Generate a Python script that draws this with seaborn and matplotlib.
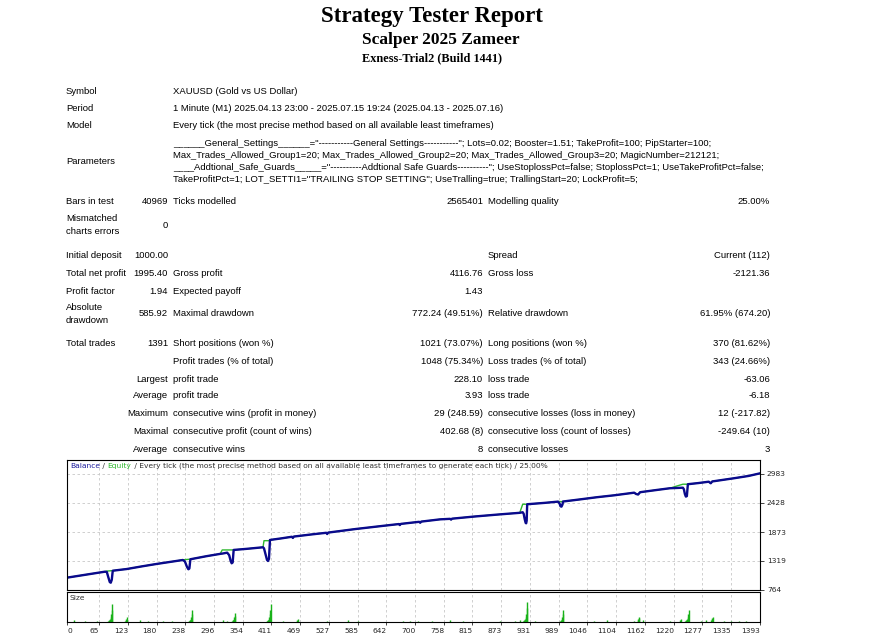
import matplotlib
matplotlib.use("Agg")
import matplotlib.pyplot as plt
import seaborn as sns
import pandas as pd

# ---- report header ----
title = "Strategy Tester Report"
subtitle = "Scalper 2025 Zameer"
server = "Exness-Trial2 (Build 1441)"

info_rows = [
    ("Symbol", "XAUUSD (Gold vs US Dollar)"),
    ("Period", "1 Minute (M1) 2025.04.13 23:00 - 2025.07.15 19:24 (2025.04.13 - 2025.07.16)"),
    ("Model", "Every tick (the most precise method based on all available least timeframes)"),
]
params_label = "Parameters"
params_lines = [
    '______General_Settings______="-----------General Settings-----------"; Lots=0.02; Booster=1.51; TakeProfit=100; PipStarter=100;',
    "Max_Trades_Allowed_Group1=20; Max_Trades_Allowed_Group2=20; Max_Trades_Allowed_Group3=20; MagicNumber=212121;",
    '____Addtional_Safe_Guards_____="----------Addtional Safe Guards----------"; UseStoplossPct=false; StoplossPct=1; UseTakeProfitPct=false;',
    'TakeProfitPct=1; LOT_SETTI1="TRAILING STOP SETTING"; UseTralling=true; TrallingStart=20; LockProfit=5;',
]

# label, value, text2, value2, text3, value3
stats_top = [
    ("Bars in test", "40969", "Ticks modelled", "2565401", "Modelling quality", "25.00%"),
    ("Mismatched\ncharts errors", "0", "", "", "", ""),
    ("Initial deposit", "1000.00", "", "", "Spread", "Current (112)"),
    ("Total net profit", "1995.40", "Gross profit", "4116.76", "Gross loss", "-2121.36"),
    ("Profit factor", "1.94", "Expected payoff", "1.43", "", ""),
    ("Absolute\ndrawdown", "585.92", "Maximal drawdown", "772.24 (49.51%)", "Relative drawdown", "61.95% (674.20)"),
    ("Total trades", "1391", "Short positions (won %)", "1021 (73.07%)", "Long positions (won %)", "370 (81.62%)"),
]
stats_bottom = [
    ("", "Profit trades (% of total)", "1048 (75.34%)", "Loss trades (% of total)", "343 (24.66%)"),
    ("Largest", "profit trade", "228.10", "loss trade", "-63.06"),
    ("Average", "profit trade", "3.93", "loss trade", "-6.18"),
    ("Maximum", "consecutive wins (profit in money)", "29 (248.59)", "consecutive losses (loss in money)", "12 (-217.82)"),
    ("Maximal", "consecutive profit (count of wins)", "402.68 (8)", "consecutive loss (count of losses)", "-249.64 (10)"),
    ("Average", "consecutive wins", "8", "consecutive losses", "3"),
]

# ---- balance / equity curve (trade number, value) ----
trade_no = [0, 30, 60, 76, 80, 83, 86, 88, 90, 92, 120, 150, 180, 210,
            233, 237, 241, 244, 246, 248, 280, 308, 312, 322, 326, 329, 331, 333, 335,
            360, 394, 396, 399, 402, 404, 406, 408, 430, 452, 454, 456, 490,
            521, 523, 525, 580, 630, 667, 669, 671, 708, 710, 712, 750, 770, 772, 774,
            820, 870, 910, 916, 918, 920, 922, 923, 924, 925, 960, 987, 990, 992, 994, 996, 997,
            1030, 1065, 1100, 1140, 1144, 1148, 1152, 1180, 1212, 1225, 1238, 1240, 1242,
            1244, 1246, 1248, 1270, 1290, 1294, 1297, 1340, 1370, 1393]
balance = [1000, 1045, 1090, 1114, 1110, 1010, 915, 904, 960, 1133, 1165, 1215, 1262, 1305,
           1338, 1310, 1210, 1160, 1175, 1352, 1410, 1455, 1460, 1478, 1430, 1320, 1275, 1290, 1530,
           1550, 1581, 1560, 1450, 1340, 1319, 1360, 1721, 1750, 1782, 1760, 1786, 1825,
           1858, 1835, 1862, 1930, 1985, 2025, 2005, 2028, 2068, 2050, 2072, 2115, 2125, 2110, 2128,
           2170, 2210, 2240, 2251, 2220, 2120, 2045, 2040, 2090, 2404, 2430, 2454, 2420, 2365, 2358, 2400, 2456,
           2495, 2538, 2575, 2625, 2600, 2590, 2634, 2670, 2710, 2715, 2720, 2690, 2600,
           2550, 2560, 2787, 2810, 2835, 2805, 2840, 2900, 2945, 2995]
equity = [1000, 1045, 1090, 1114, 1125, 1128, 1130, 1132, 1133, 1133, 1165, 1215, 1262, 1305,
          1340, 1345, 1348, 1350, 1352, 1352, 1410, 1455, 1530, 1530, 1530, 1530, 1530, 1530, 1530,
          1550, 1581, 1707, 1707, 1707, 1707, 1707, 1721, 1750, 1782, 1760, 1786, 1825,
          1858, 1835, 1862, 1930, 1985, 2025, 2005, 2028, 2068, 2050, 2072, 2115, 2125, 2110, 2128,
          2170, 2210, 2240, 2404, 2404, 2404, 2404, 2404, 2404, 2404, 2430, 2454, 2454, 2454, 2454, 2456, 2456,
          2495, 2538, 2575, 2625, 2600, 2590, 2634, 2670, 2710, 2750, 2787, 2787, 2787,
          2787, 2787, 2787, 2810, 2835, 2805, 2840, 2900, 2945, 2995]

# ---- lot size per trade ----
size_trade = [14, 36, 60, 83, 84, 85, 86, 87, 88, 89, 90, 91, 117, 118, 119, 120, 147, 163, 193, 211,
              245, 246, 247, 248, 249, 250, 251, 252, 314, 322, 332, 333, 334, 335, 336, 337, 338,
              402, 403, 404, 405, 406, 407, 408, 409, 410, 434, 462, 463, 464, 523, 565, 585,
              675, 690, 705, 733, 770, 797, 870, 900, 910, 917, 918, 919, 920, 921, 922, 923, 924, 925, 940,
              991, 992, 993, 994, 995, 996, 997, 998, 1060, 1085, 1140, 1147, 1148, 1149, 1150, 1157, 1212,
              1233, 1234, 1243, 1244, 1245, 1246, 1247, 1248, 1249, 1250, 1275, 1285, 1295, 1296, 1297, 1298,
              1320, 1335, 1350, 1365]
size_lot = [0.05, 0.03, 0.04, 0.02, 0.03, 0.05, 0.07, 0.10, 0.16, 0.24, 0.36, 0.54, 0.04, 0.07, 0.10, 0.14, 0.05, 0.04, 0.03, 0.04,
            0.02, 0.03, 0.05, 0.07, 0.10, 0.16, 0.24, 0.36, 0.05, 0.04, 0.03, 0.05, 0.07, 0.10, 0.14, 0.19, 0.26,
            0.02, 0.03, 0.05, 0.07, 0.10, 0.16, 0.24, 0.36, 0.54, 0.03, 0.04, 0.07, 0.10, 0.04, 0.05, 0.04,
            0.04, 0.03, 0.04, 0.04, 0.05, 0.03, 0.03, 0.04, 0.05, 0.02, 0.03, 0.05, 0.07, 0.10, 0.16, 0.24, 0.40, 0.60, 0.04,
            0.02, 0.03, 0.05, 0.07, 0.10, 0.16, 0.24, 0.36, 0.04, 0.05, 0.04, 0.05, 0.08, 0.12, 0.16, 0.05, 0.04,
            0.05, 0.08, 0.02, 0.03, 0.05, 0.07, 0.10, 0.16, 0.24, 0.36, 0.04, 0.05, 0.05, 0.08, 0.12, 0.16,
            0.04, 0.03, 0.04, 0.03]

x_ticks = [0, 65, 123, 180, 238, 296, 354, 411, 469, 527, 585, 642, 700, 758, 815, 873,
           931, 989, 1046, 1104, 1162, 1220, 1277, 1335, 1393]
y_ticks = [764, 1319, 1873, 2428, 2983]
chart_caption = " / Every tick (the most precise method based on all available least timeframes to generate each tick) / 25.00%"

W, H = 869, 640
sns.set_theme(style="white")
plt.rcParams["font.family"] = ["Liberation Sans", "DejaVu Sans"]

fig = plt.figure(figsize=(W / 100, H / 100), dpi=100)
fig.patch.set_facecolor("white")

BODY = 6.8
SMALL = 5.4
SERIF = ["Liberation Serif", "DejaVu Serif"]


def put(x, y, s, ha="left", size=BODY, **kw):
    fig.text(x / W, 1 - y / H, s, ha=ha, va="center", fontsize=size, color="black", **kw)


# header
put(432, 16.5, title, ha="center", size=16.5, family=SERIF, weight="bold")
put(441, 40, subtitle, ha="center", size=12.5, family=SERIF, weight="bold")
put(432, 58, server, ha="center", size=8.8, family=SERIF, weight="bold")

# info rows
for i, (lab, val) in enumerate(info_rows):
    y = 91 + i * 17.5
    put(66, y, lab)
    put(173, y, val)
put(66, 161, params_label)
for i, line in enumerate(params_lines):
    put(173, 143 + i * 12, line)

# statistics
top_y = [201, 225, 255, 273, 291, 314, 344]
for y, (lab, v1, t2, v2, t3, v3) in zip(top_y, stats_top):
    put(66, y, lab, linespacing=1.45)
    put(168, y, v1, ha="right")
    put(173, y, t2)
    put(483, y, v2, ha="right")
    put(488, y, t3)
    put(770, y, v3, ha="right")

bottom_y = [361, 379, 396, 414, 431, 449]
for y, (lab, t2, v2, t3, v3) in zip(bottom_y, stats_bottom):
    put(168, y, lab, ha="right")
    put(173, y, t2)
    put(483, y, v2, ha="right")
    put(488, y, t3)
    put(770, y, v3, ha="right")

# ---- charts ----
L, R = 67 / W, 760 / W
ax = fig.add_axes([L, 1 - 590 / H, R - L, (590 - 460) / H])
axs = fig.add_axes([L, 1 - 622 / H, R - L, (622 - 591.5) / H])

curve = pd.DataFrame({"trade": trade_no, "Balance": balance, "Equity": equity})
sns.lineplot(data=curve, x="trade", y="Equity", ax=ax, color="#2eb82e", lw=1.0)
sns.lineplot(data=curve, x="trade", y="Balance", ax=ax, color="#8a8aff", lw=0.8)
sns.lineplot(data=curve, x="trade", y="Balance", ax=ax, color="#0a0a8c", lw=1.7)

ax.set_xlim(0, 1393)
ax.set_ylim(764, 3250)
ax.set_xticks(x_ticks)
ax.set_yticks(y_ticks)
ax.set_xticklabels([])
ax.yaxis.tick_right()
ax.set_yticklabels([str(v) for v in y_ticks], fontsize=SMALL, family="DejaVu Sans")
ax.tick_params(axis="y", length=3, width=0.6, pad=2, right=True)
ax.tick_params(axis="x", length=0)
ax.set_xlabel("")
ax.set_ylabel("")
ax.grid(True, color="#c8c8c8", linestyle=(0, (3, 3)), lw=0.6)
for sp in ax.spines.values():
    sp.set_color("black")
    sp.set_linewidth(0.8)

cap = ax.text(0.005, 0.955, "Balance", transform=ax.transAxes, fontsize=SMALL, family="DejaVu Sans",
              color="#1c1c9c", va="center", ha="left")
cap2 = ax.annotate(" / ", xy=(1, 0), xycoords=cap, va="bottom", fontsize=SMALL, family="DejaVu Sans", color="#333333")
cap3 = ax.annotate("Equity", xy=(1, 0), xycoords=cap2, va="bottom", fontsize=SMALL, family="DejaVu Sans", color="#2eb82e")
ax.annotate(chart_caption, xy=(1, 0), xycoords=cap3, va="bottom", fontsize=SMALL, family="DejaVu Sans", color="#333333")

axs.vlines(size_trade, 0, size_lot, color="#19b219", lw=1.0)
axs.set_xlim(0, 1393)
axs.set_ylim(0, 0.9)
axs.set_yticks([])
axs.set_xticks(x_ticks)
axs.set_xticklabels([str(v) for v in x_ticks], fontsize=SMALL, family="DejaVu Sans")
for i, lab in enumerate(axs.get_xticklabels()):
    lab.set_ha("left" if i == 0 else "right")
axs.tick_params(axis="x", length=2.5, width=0.6, pad=1.5, bottom=True)
axs.grid(True, axis="x", color="#c8c8c8", linestyle=(0, (3, 3)), lw=0.6)
axs.text(0.004, 0.78, "Size", transform=axs.transAxes, fontsize=SMALL, family="DejaVu Sans", color="#333333", va="center")
for sp in axs.spines.values():
    sp.set_color("black")
    sp.set_linewidth(0.8)

fig.savefig("out.png", dpi=100, facecolor="white")
